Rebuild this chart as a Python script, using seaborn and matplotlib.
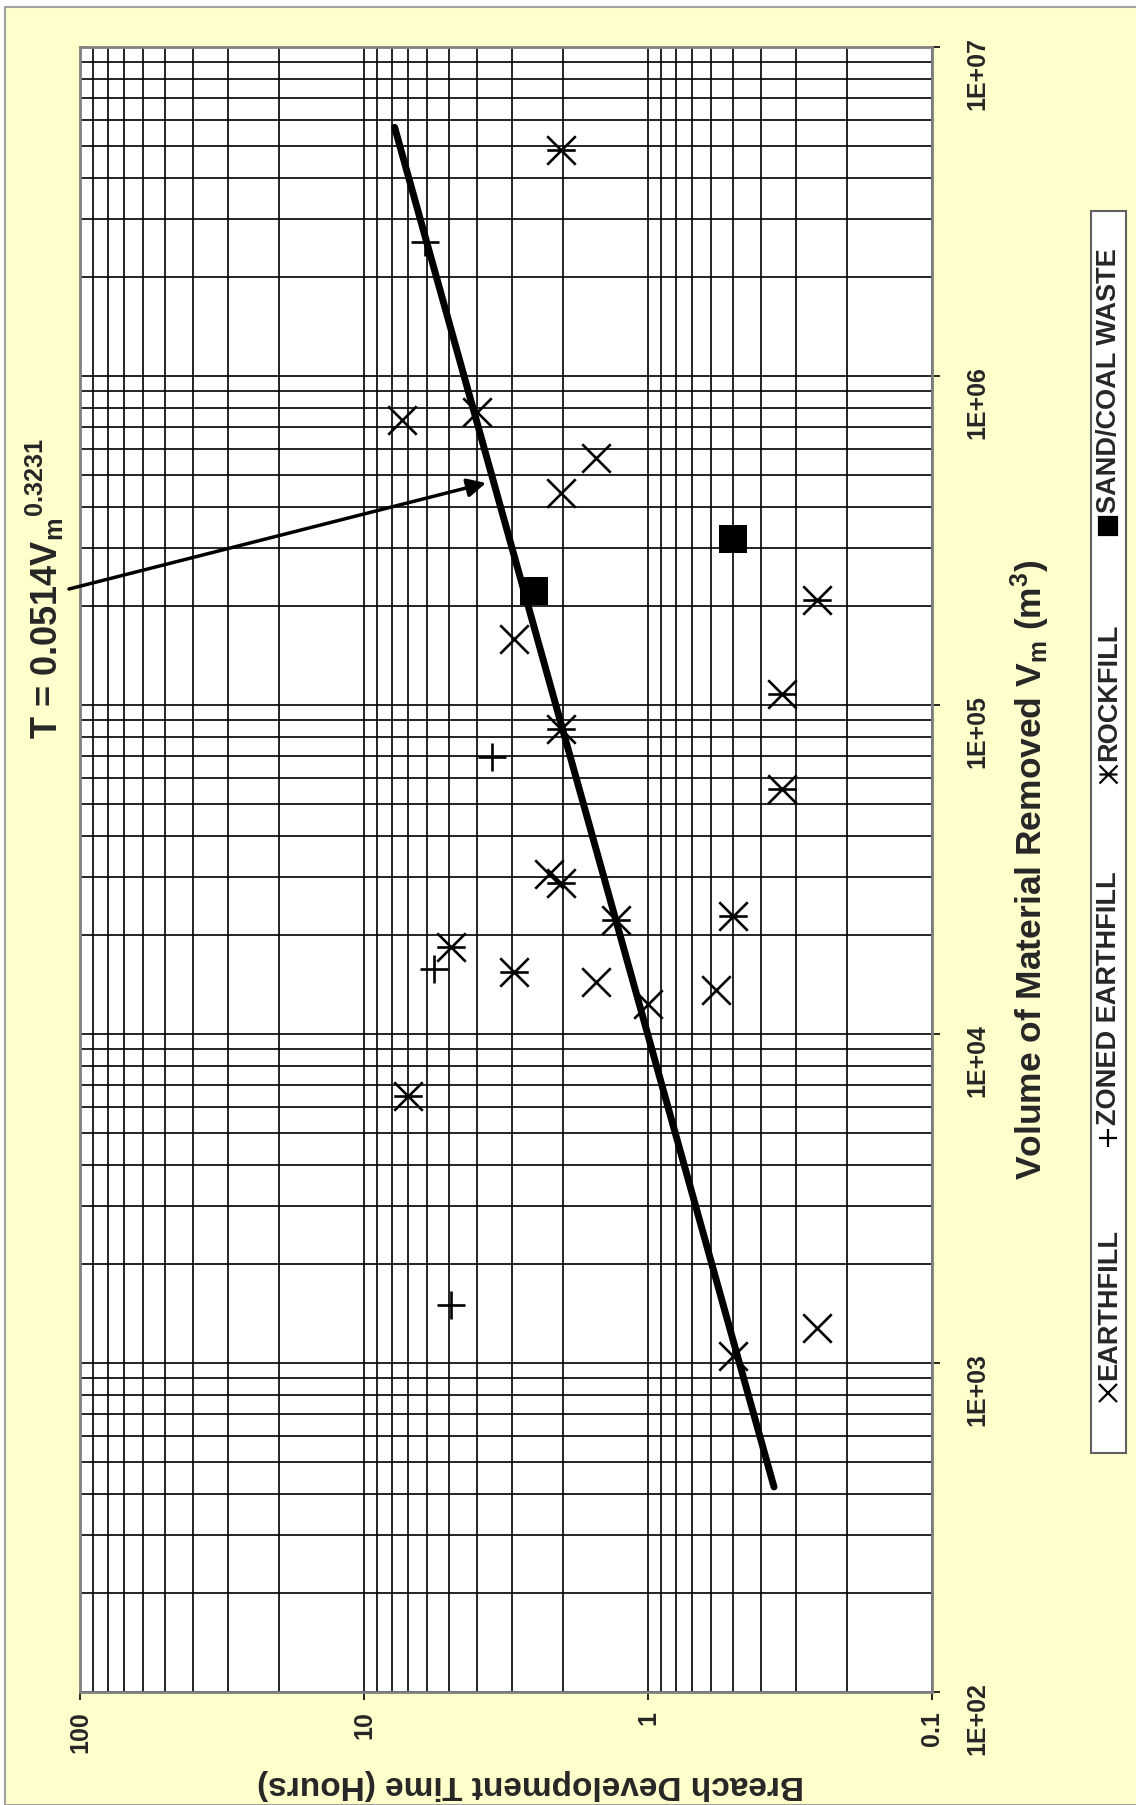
import numpy as np
import pandas as pd
import matplotlib
matplotlib.use("Agg")
import matplotlib.pyplot as plt
from matplotlib.path import Path
from matplotlib.patches import Rectangle
from matplotlib.lines import Line2D
from matplotlib.ticker import NullFormatter
import seaborn as sns

sns.set_theme(style="white")
plt.rcParams['font.family'] = ['Liberation Sans', 'DejaVu Sans']
plt.rcParams['mathtext.fontset'] = 'custom'
plt.rcParams['mathtext.rm'] = 'Liberation Sans'
plt.rcParams['mathtext.bf'] = 'Liberation Sans:bold'
plt.rcParams['mathtext.it'] = 'Liberation Sans:italic'

# Breach development time (hours) vs volume of material removed (m3)
earth_time = [0.255, 0.503, 1.53, 1.0, 0.578, 2.24, 2.97, 2.02, 1.53, 7.33, 4.0]
earth_vol = [1280, 1050, 14400, 12300, 13600, 30600, 159000, 441000, 562000, 734000, 776000]

zoned_time = [4.95, 5.65, 3.54, 6.08]
zoned_vol = [1500, 15800, 69300, 2550000]

rock_time = [2.02, 7.0, 4.95, 2.97, 2.02, 1.30, 2.02, 0.503, 0.337, 0.337, 0.255]
rock_vol = [4870000, 6490, 18400, 15400, 28700, 22200, 84700, 22900, 55700, 108000, 208000]

sand_time = [2.51, 0.503]
sand_vol = [222000, 319000]

# fitted curve T = 0.0514 Vm^0.3231, ends
fit_vol = [420, 5700000]
fit_time = [0.36, 7.8]

vol_ticks = [1e2, 1e3, 1e4, 1e5, 1e6, 1e7]
vol_labels = ['1E+02', '1E+03', '1E+04', '1E+05', '1E+06', '1E+07']
time_ticks = [100, 10, 1, 0.1]
time_labels = ['100', '10', '1', '0.1']

legend_names = ['EARTHFILL', 'ZONED EARTHFILL', 'ROCKFILL', 'SAND/COAL WASTE']

W, H = 1136, 1805
fig = plt.figure(figsize=(W / 100, H / 100), dpi=100, facecolor='white')
fig.add_artist(Rectangle((5 / W, 0), 1, 1 - 7 / H, transform=fig.transFigure,
                         facecolor='#FFFFCC', edgecolor='#A0A0A0', lw=1.5, zorder=-10))

# the chart is drawn turned a quarter turn: volume runs up, time runs right-to-left
ax = fig.add_axes([80 / W, 1 - 1692 / H, 852 / W, 1645 / H])
ax.set_facecolor('white')
ax.set_xscale('log')
ax.set_yscale('log')
ax.set_xlim(100, 0.1)
ax.set_ylim(1e2, 1e7)

ax.grid(which='both', color='black', lw=1.2)
ax.set_axisbelow(True)
for s in ax.spines.values():
    s.set_color('#808080')
    s.set_linewidth(2)

rock_marker = Path([(-0.5, -0.5), (0.5, 0.5), (-0.5, 0.5), (0.5, -0.5), (-0.5, 0), (0.5, 0)],
                   [Path.MOVETO, Path.LINETO, Path.MOVETO, Path.LINETO, Path.MOVETO, Path.LINETO])

sns.scatterplot(x=earth_time, y=earth_vol, marker='x', color='black', s=420, linewidth=1.9, ax=ax, zorder=3)
sns.scatterplot(x=zoned_time, y=zoned_vol, marker='+', color='black', s=380, linewidth=1.9, ax=ax, zorder=3)
sns.scatterplot(x=rock_time, y=rock_vol, marker=rock_marker, color='black', edgecolor='black',
                s=420, linewidth=1.9, ax=ax, zorder=3)
sns.scatterplot(x=sand_time, y=sand_vol, marker='s', color='black', edgecolor='black',
                s=420, linewidth=0, ax=ax, zorder=3)

fit = pd.DataFrame({'time': fit_time, 'vol': fit_vol})
sns.lineplot(data=fit, x='time', y='vol', sort=False, estimator=None, color='black',
             lw=5, solid_capstyle='round', ax=ax, zorder=4)

ax.set_xticks(time_ticks)
ax.set_xticklabels(time_labels)
ax.set_yticks(vol_ticks)
ax.set_yticklabels(vol_labels)
ax.xaxis.set_minor_formatter(NullFormatter())
ax.yaxis.set_minor_formatter(NullFormatter())
ax.yaxis.tick_right()
ax.tick_params(axis='both', which='major', direction='out', length=6, width=1.2,
               color='black', labelsize=18)
ax.tick_params(axis='both', which='minor', length=0)
ax.tick_params(axis='x', labelrotation=90, pad=8, bottom=True)
ax.tick_params(axis='y', labelrotation=90, pad=18, right=True, left=False)
for t in ax.get_xticklabels() + ax.get_yticklabels():
    t.set_fontweight('bold')

ax.set_xlabel('Breach Development Time (Hours)', fontsize=24, fontweight='bold',
              rotation=180, ha='center', va='center')
ax.xaxis.set_label_coords(0.529, -0.0565)
ax.yaxis.set_label_position('right')
ax.set_ylabel(r'Volume of Material Removed V$_\mathbf{m}$ (m$^\mathbf{3}$)', fontsize=25.5,
              fontweight='bold', rotation=90, ha='center', va='center')
ax.yaxis.set_label_coords(1.115, 0.5)

fig.text(58 / W, 1 - 739 / H, r'T = 0.0514V$_\mathbf{m}$$^{\mathregular{0.3231}}$', fontsize=26,
         fontweight='bold', rotation=90, rotation_mode='anchor', ha='left', va='baseline')
ax.annotate('', xy=(3.72, 4.73e5), xycoords='data',
            xytext=(69 / W, 1 - 589 / H), textcoords='figure fraction',
            arrowprops=dict(arrowstyle='-|>', lw=2.5, color='black', mutation_scale=28,
                            shrinkA=0, shrinkB=0), zorder=5)

# legend box, turned like the rest
fig.add_artist(Rectangle((1091 / W, 1 - 1453 / H), 35 / W, 1242 / H, transform=fig.transFigure,
                         facecolor='white', edgecolor='#606060', lw=1.5))
leg_x = 1108 / W
leg_marker_y = [1393, 1138, 774, 526]
leg_markers = ['x', '+', rock_marker, 's']
for name, my, mk in zip(legend_names, leg_marker_y, leg_markers):
    fig.add_artist(Line2D([leg_x], [1 - my / H], transform=fig.transFigure, marker=mk,
                          color='black', markersize=13, mew=1.6, linestyle='none'))
    fig.text(leg_x + 1 / W, 1 - (my - 13) / H, name, fontsize=19.5, fontweight='bold',
             rotation=90, rotation_mode='anchor', ha='left', va='center')

fig.savefig('out.png', dpi=100, facecolor=fig.get_facecolor())
